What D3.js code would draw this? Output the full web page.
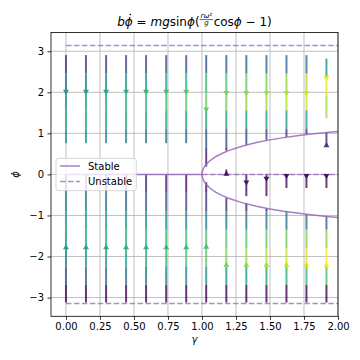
<!DOCTYPE html>
<html><head><meta charset="utf-8">
<script src="https://cdn.jsdelivr.net/npm/d3@7"></script>
<style>body{margin:0;background:#fff} svg{display:block} text{font-family:"DejaVu Sans",sans-serif}</style>
</head><body><svg id="c" width="360" height="360"></svg>
<script>
// ---------- data ----------
const gammaCols = [0,0.147,0.295,0.442,0.589,0.737,0.884,1.031,1.179,1.326,1.474,1.621,1.768,1.915];
const xTicks = [0,0.25,0.5,0.75,1,1.25,1.5,1.75,2];
const yTicks = [-3,-2,-1,0,1,2,3];
const phiStep = 0.449;
// downward streamlines in the upper half (one per column)
const topStart = [2.905,2.905,2.905,2.905,2.905,2.905,2.905,2.905,2.905,2.905,2.905,2.905,2.905,2.82];
const topEnd   = [0.76,0.76,0.76,0.76,0.76,0.76,0.76,0.19,0.58,0.72,0.84,0.91,0.98,1.37];
const topHead  = [2.0,2.0,2.0,2.0,2.0,2.0,2.0,1.57,1.97,1.97,1.97,1.97,1.97,2.34];
const topLevels = [
  [.14,.37,.53,.585,.52],
  [.16,.41,.56,.58,.49],
  [.18,.46,.60,.58,.45],
  [.20,.50,.63,.58,.42],
  [.22,.54,.66,.58,.39],
  [.24,.58,.70,.58,.35],
  [.26,.62,.73,.58,.32],
  [.28,.67,.76,.58,.28,.07],
  [.29,.71,.79,.58,.25,.02],
  [.31,.75,.83,.57,.22],
  [.33,.79,.86,.57,.18],
  [.35,.83,.89,.57,.15],
  [.37,.88,.93,.57,.11],
  [.52,.97,.86]
];
// upward streamlines in the lower half (one per column)
const botGrid0 = -3.14;
const botStart = [-3.12,-3.12,-3.12,-3.12,-3.12,-3.12,-3.12,-3.12,-3.12,-3.12,-3.12,-3.12,-3.12,-3.12];
const botEnd   = [0,0,0,0,0,0,0,-0.19,-0.57,-0.70,-0.83,-0.90,-0.97,-1.02];
const botHead  = [-1.76,-1.76,-1.76,-1.76,-1.76,-1.76,-1.76,-1.75,-2.19,-2.19,-2.19,-2.19,-2.19,-2.19];
const botLevels = [
  [0,.255,.46,.57,.57,.46,.25],
  [0,.29,.50,.59,.55,.42,.22],
  [0,.32,.54,.61,.53,.37,.19],
  [0,.36,.59,.63,.52,.33,.15],
  [0,.39,.63,.65,.50,.29,.12],
  [0,.42,.67,.67,.48,.25,.09],
  [0,.46,.71,.68,.46,.21,.05],
  [0,.49,.75,.70,.44,.16,.02],
  [0,.53,.80,.72,.42,.12],
  [0,.56,.84,.74,.41,.08],
  [0,.59,.88,.76,.39,.04],
  [0,.63,.92,.78,.37],
  [0,.66,.96,.80,.35],
  [0,.70,1.0,.82,.33]
];
// short extra streamlines
const extraCol   = [8,9,10,11,12,13,13];
const extraFrom  = [-0.02,0.0,0.0,0.0,0.0,0.0,0.72];
const extraTo    = [0.12,-0.53,-0.53,-0.33,-0.33,-0.33,1.03];
const extraHead  = [0.03,-0.21,-0.12,-0.05,-0.05,-0.05,0.72];
const extraLevel = [0.02,0.04,0.03,0.03,0.03,0.03,0.12];
// stable branch phi = ±arccos(1/gamma), read points
const branchGamma = [1.0,1.0005,1.002,1.01,1.03,1.06,1.1,1.15,1.2,1.3,1.4,1.5,1.6,1.7,1.8,1.9,2.0];
const branchPhi   = [0,0.0316,0.0632,0.1409,0.2424,0.3374,0.4297,0.5158,0.5857,0.6931,0.7752,0.8411,0.8957,0.9419,0.9817,1.0167,1.0472];
const stableFlat = [[0,0],[1,0]];
const unstableLines = [[[0,Math.PI],[2,Math.PI]],[[0,-Math.PI],[2,-Math.PI]],[[1,0],[2,0]]];
const legendLabels = ["Stable","Unstable"];

// ---------- layout ----------
const svg = d3.select("#c");
const x = d3.scaleLinear().domain([-0.11,2.0]).range([51,338]);
const y = d3.scaleLinear().domain([-3.456,3.456]).range([316.3,32.5]);
const purple = "#9467bd";

// grid
const g = svg.append("g");
g.selectAll(".gx").data(xTicks).join("line")
  .attr("x1",d=>x(d)).attr("x2",d=>x(d)).attr("y1",y.range()[0]).attr("y2",y.range()[1])
  .attr("stroke","#b0b0b0").attr("stroke-width",0.8);
g.selectAll(".gy").data(yTicks).join("line")
  .attr("y1",d=>y(d)).attr("y2",d=>y(d)).attr("x1",x.range()[0]).attr("x2",x.range()[1])
  .attr("stroke","#b0b0b0").attr("stroke-width",0.8);

// streamlines
const segs = [];
const heads = [];
function levelAt(levels, bounds, p){
  for(let i=0;i<bounds.length;i++){ const [a,b]=bounds[i]; if(p<=Math.max(a,b)+1e-9 && p>=Math.min(a,b)-1e-9) return levels[i]; }
  return levels[levels.length-1];
}
gammaCols.forEach((gm,c)=>{
  // top
  const tb=[];
  topLevels[c].forEach((lv,k)=>{
    const a = topStart[c]-k*phiStep;
    const b = Math.max(topStart[c]-(k+1)*phiStep, topEnd[c]);
    if(k===topLevels[c].length-1){ tb.push([a,topEnd[c]]); segs.push({g:gm,a:a,b:topEnd[c],lv:lv}); }
    else { tb.push([a,b]); segs.push({g:gm,a:a,b:b,lv:lv}); }
  });
  heads.push({g:gm,p:topHead[c],dir:-1,lv:levelAt(topLevels[c],tb,topHead[c])});
  // bottom
  const bb=[];
  botLevels[c].forEach((lv,k)=>{
    const a = Math.max(botGrid0+k*phiStep, botStart[c]);
    let b = Math.min(botGrid0+(k+1)*phiStep, botEnd[c]);
    if(k===botLevels[c].length-1) b = botEnd[c];
    bb.push([a,b]); segs.push({g:gm,a:a,b:b,lv:lv});
  });
  heads.push({g:gm,p:botHead[c],dir:1,lv:levelAt(botLevels[c],bb,botHead[c])});
});
extraCol.forEach((c,i)=>{
  segs.push({g:gammaCols[c],a:extraFrom[i],b:extraTo[i],lv:extraLevel[i]});
  heads.push({g:gammaCols[c],p:extraHead[i],dir:Math.sign(extraTo[i]-extraFrom[i]),lv:extraLevel[i]});
});
svg.append("g").selectAll("line").data(segs).join("line")
  .attr("x1",d=>x(d.g)).attr("x2",d=>x(d.g)).attr("y1",d=>y(d.a)).attr("y2",d=>y(d.b))
  .attr("stroke",d=>d3.interpolateViridis(d.lv)).attr("stroke-width",2).attr("stroke-opacity",0.8);

// equilibrium lines
const line = d3.line().x(d=>x(d[0])).y(d=>y(d[1]));
const branchPts = branchGamma.map((gm,i)=>[gm,-branchPhi[i]]).reverse().concat(branchGamma.slice(1).map((gm,i)=>[gm,branchPhi[i+1]]));
const lg = svg.append("g").attr("fill","none").attr("stroke",purple).attr("stroke-width",1.5);
lg.append("path").attr("d",line(stableFlat)).attr("stroke-opacity",0.85);
lg.append("path").attr("d",line(branchPts)).attr("stroke-opacity",0.85);
unstableLines.forEach(u=>lg.append("path").attr("d",line(u)).attr("stroke-dasharray","5.55,2.4").attr("stroke-opacity",0.75));

// arrow heads
svg.append("g").selectAll("path").data(heads).join("path")
  .attr("d",d=>{const cx=x(d.g), cy=y(d.p), s=-d.dir; // s=+1 => pointing down on screen
    return `M${cx-3},${cy-2.5*s}L${cx+3},${cy-2.5*s}L${cx},${cy+2.5*s}Z`;})
  .attr("fill",d=>d3.interpolateViridis(d.lv)).attr("fill-opacity",0.95);

// axes
const ax = svg.append("g").attr("transform",`translate(0,${y.range()[0]})`)
  .call(d3.axisBottom(x).tickValues(xTicks).tickFormat(d3.format(".2f")).tickSize(3.5).tickPadding(3.5));
const ay = svg.append("g").attr("transform",`translate(${x.range()[0]},0)`)
  .call(d3.axisLeft(y).tickValues(yTicks).tickFormat(d3.format("d")).tickSize(3.5).tickPadding(3.5));
[ax,ay].forEach(a=>{a.select(".domain").remove(); a.selectAll("text").attr("font-size",10).attr("font-family","DejaVu Sans").attr("fill","#000");
  a.selectAll("line").attr("stroke","#000").attr("stroke-width",0.8);});
svg.append("rect").attr("x",x.range()[0]).attr("y",y.range()[1]).attr("width",x.range()[1]-x.range()[0]).attr("height",y.range()[0]-y.range()[1])
  .attr("fill","none").attr("stroke","#000").attr("stroke-width",0.8);

// axis labels
svg.append("text").attr("x",194.5).attr("y",343).attr("text-anchor","middle").attr("font-size",10).attr("font-style","italic").text("γ");
svg.append("text").attr("transform","translate(19,174.5) rotate(-90)").attr("text-anchor","middle").attr("font-size",10).attr("font-style","italic").text("ϕ");

// legend
const leg = svg.append("g");
leg.append("rect").attr("x",56).attr("y",158.3).attr("width",80.3).attr("height",32.4).attr("rx",2.5)
  .attr("fill","#fff").attr("fill-opacity",0.8).attr("stroke","#cccccc").attr("stroke-width",0.8);
legendLabels.forEach((lab,i)=>{
  const yy = 166 + i*15.5;
  leg.append("line").attr("x1",60).attr("x2",80).attr("y1",yy).attr("y2",yy).attr("stroke",purple).attr("stroke-width",1.5)
    .attr("stroke-opacity",i?0.75:0.85).attr("stroke-dasharray",i?"5.55,2.4":null);
  leg.append("text").attr("x",88).attr("y",yy+3.6).attr("font-size",10).text(lab);
});

// title (mathtext-like)
const titleParts = [
  {t:"b",it:1},{t:"ϕ",it:1,dot:1},{t:" = ",it:0},{t:"mg",it:1},{t:"sin",it:0},{t:"ϕ",it:1},{t:"(",it:0},
  {frac:["rω²","g"]},{t:"cos",it:0},{t:"ϕ",it:1},{t:" − 1)",it:0}
];
const tg = svg.append("g");
const base = 26, fs = 12;
let cx = 0;
titleParts.forEach(p=>{
  if(p.frac){
    const n = tg.append("text").attr("font-size",7).attr("font-style","italic").attr("y",17.6).text(p.frac[0]);
    const dd = tg.append("text").attr("font-size",7).attr("font-style","italic").attr("y",25).text(p.frac[1]);
    const wn = n.node().getComputedTextLength(), wd = dd.node().getComputedTextLength();
    const w = Math.max(wn,wd)+2;
    n.attr("x",cx+1+(w-2-wn)/2); dd.attr("x",cx+(w-wd)/2);
    tg.append("line").attr("x1",cx).attr("x2",cx+w).attr("y1",19.6).attr("y2",19.6).attr("stroke","#000").attr("stroke-width",0.6);
    cx += w+0.5;
  } else {
    const t = tg.append("text").attr("x",cx).attr("y",base).attr("font-size",fs).attr("font-style",p.it?"italic":"normal")
      .attr("xml:space","preserve").style("white-space","pre").text(p.t);
    const w = t.node().getComputedTextLength();
    if(p.dot) tg.append("circle").attr("cx",cx+w/2+1.5).attr("cy",base-11.5).attr("r",0.8).attr("fill","#000");
    cx += w;
  }
});
tg.attr("transform",`translate(${194.5-cx/2},0)`);
</script></body></html>
